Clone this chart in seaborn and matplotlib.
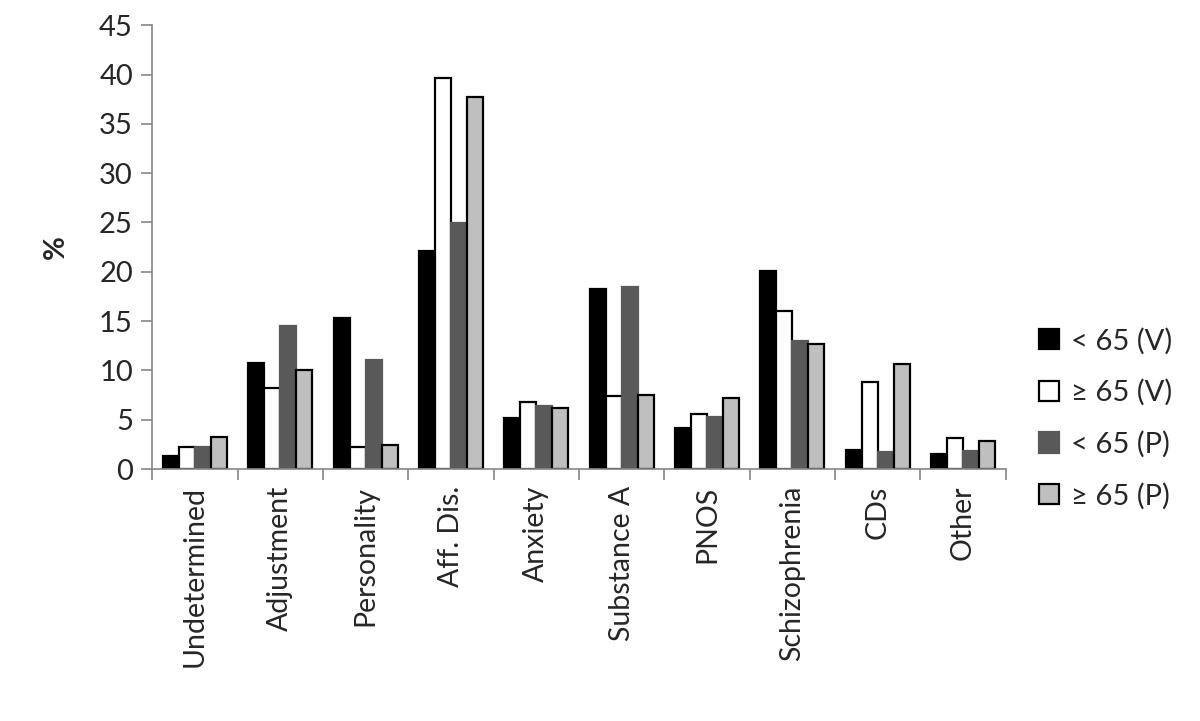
import pandas as pd
import seaborn as sns
import matplotlib.pyplot as plt

categories = ['Undetermined', 'Adjustment', 'Personality', 'Aff. Dis.', 'Anxiety',
              'Substance A', 'PNOS', 'Schizophrenia', 'CDs', 'Other']
groups = ['< 65 (V)', '≥ 65 (V)', '< 65 (P)', '≥ 65 (P)']

young_v = [1.35, 10.7, 15.3, 22.1, 5.2, 18.3, 4.2, 20.1, 1.9, 1.55]
old_v = [2.2, 8.2, 2.2, 39.6, 6.8, 7.4, 5.6, 16.0, 8.85, 3.1]
young_p = [2.2, 14.5, 11.1, 24.9, 6.35, 18.5, 5.3, 13.0, 1.75, 1.8]
old_p = [3.2, 10.0, 2.4, 37.7, 6.15, 7.5, 7.2, 12.7, 10.6, 2.8]

colors = ['#000000', '#ffffff', '#595959', '#bfbfbf']
edges = ['#000000', '#000000', '#595959', '#000000']

rows = []
for g, vals in zip(groups, [young_v, old_v, young_p, old_p]):
    for c, v in zip(categories, vals):
        rows.append({'category': c, 'group': g, 'pct': v})
df = pd.DataFrame(rows)

sns.set_style('white')
plt.rcParams['font.family'] = ['Lato', 'DejaVu Sans']

fig = plt.figure(figsize=(12, 7.21), dpi=100)
ax = fig.add_axes([0.127, 0.3495, 0.711, 0.6155])

sns.barplot(data=df, x='category', y='pct', hue='group', order=categories,
            hue_order=groups, palette=colors, width=0.75, ax=ax,
            saturation=1, legend=False)

for cont, ec in zip(ax.containers, edges):
    for bar in cont:
        bar.set_edgecolor(ec)
        bar.set_linewidth(1.6)

ax.set_ylim(0, 45)
ax.set_yticks(range(0, 46, 5))
ax.set_xlim(-0.5, len(categories) - 0.5)
ax.set_xticks(range(len(categories)))
ax.set_xticklabels(categories, rotation=90, fontsize=20.5)
ax.set_xticks([i - 0.5 for i in range(len(categories) + 1)], minor=True)
ax.tick_params(axis='x', which='major', length=0, pad=12)
ax.tick_params(axis='x', which='minor', length=8, color='#868686', width=1.2)
ax.tick_params(axis='y', length=8, color='#868686', width=1.2, labelsize=21, pad=6)
ax.tick_params(axis='both', bottom=True, left=True, which='both')

for s in ['top', 'right']:
    ax.spines[s].set_visible(False)
for s in ['left', 'bottom']:
    ax.spines[s].set_color('#868686')
    ax.spines[s].set_linewidth(1.2)

ax.set_xlabel('')
ax.set_ylabel('%', fontsize=21, fontweight='bold', labelpad=22)

handles = [plt.Rectangle((0, 0), 1, 1, facecolor=c, edgecolor=e, linewidth=1.6)
           for c, e in zip(colors, edges)]
ax.legend(handles, groups, loc='upper left', bbox_to_anchor=(1.025, 0.345),
          frameon=False, fontsize=21, handlelength=0.7, handleheight=0.7,
          handletextpad=0.4, labelspacing=0.85, borderaxespad=0)

fig.savefig('out.png', dpi=100)
